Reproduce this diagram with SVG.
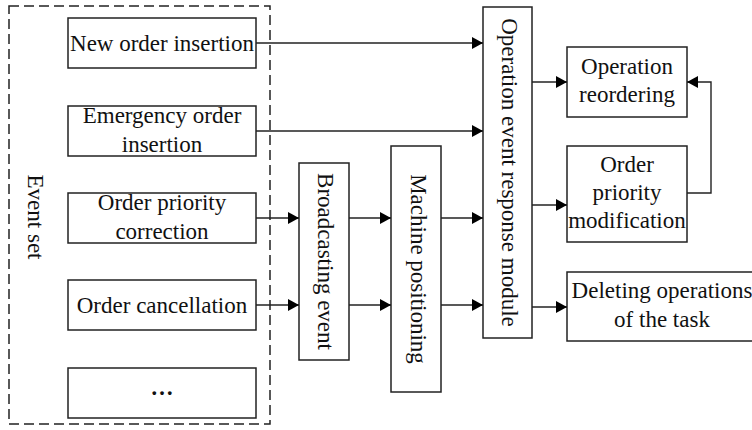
<svg xmlns="http://www.w3.org/2000/svg" width="752" height="430" viewBox="0 0 752 430">
<style>
.box{fill:#fff;stroke:#222;stroke-width:1.5}
.dash{fill:none;stroke:#222;stroke-width:1.5;stroke-dasharray:10 5}
.t{font-family:"Liberation Serif","Times New Roman",serif;font-size:23px;fill:#111;text-anchor:middle}
.c{fill:none;stroke:#222;stroke-width:1.4}
</style>
<defs>
<marker id="ah" markerWidth="11" markerHeight="12" refX="11" refY="6" orient="auto" markerUnits="userSpaceOnUse">
<path d="M0,0 L11,6 L0,12 z" fill="#000"/>
</marker>
</defs>
<rect width="752" height="430" fill="#fff"/>
<g id="event-set">
<rect class="dash" x="9" y="6" width="261" height="418"/>
<text class="t" transform="translate(28,217) rotate(90)">Event set</text>
</g>
<g id="new-order">
<rect class="box" x="68" y="18" width="188" height="50"/>
<text class="t" x="162" y="50.5">New order insertion</text>
</g>
<g id="emergency-order">
<rect class="box" x="68" y="106" width="188" height="50"/>
<text class="t" x="162" y="123">Emergency order</text>
<text class="t" x="162" y="152">insertion</text>
</g>
<g id="priority-correction">
<rect class="box" x="68" y="193" width="188" height="50"/>
<text class="t" x="162" y="210">Order priority</text>
<text class="t" x="162" y="239">correction</text>
</g>
<g id="order-cancellation">
<rect class="box" x="68" y="280" width="188" height="50"/>
<text class="t" x="162" y="312.5">Order cancellation</text>
</g>
<g id="more">
<rect class="box" x="68" y="368" width="188" height="50"/>
<text class="t" x="162" y="395" font-weight="bold">…</text>
</g>
<g id="broadcasting">
<rect class="box" x="299" y="163" width="50" height="197"/>
<text class="t" transform="translate(318,261.5) rotate(90)">Broadcasting event</text>
</g>
<g id="machine-positioning">
<rect class="box" x="391" y="146" width="50" height="246"/>
<text class="t" transform="translate(411,269) rotate(90)">Machine positioning</text>
</g>
<g id="response-module">
<rect class="box" x="483" y="7" width="49" height="331"/>
<text class="t" transform="translate(502,172.5) rotate(90)">Operation event response module</text>
</g>
<g id="reordering">
<rect class="box" x="567" y="47" width="120" height="70"/>
<text class="t" x="627" y="74">Operation</text>
<text class="t" x="627" y="102">reordering</text>
</g>
<g id="priority-modification">
<rect class="box" x="567" y="146" width="120" height="96"/>
<text class="t" x="627" y="172">Order</text>
<text class="t" x="627" y="200">priority</text>
<text class="t" x="627" y="227.5">modification</text>
</g>
<g id="deleting">
<rect class="box" x="567" y="272" width="190" height="69"/>
<text class="t" x="662" y="298">Deleting operations</text>
<text class="t" x="662" y="327">of the task</text>
</g>
<g id="connectors">
<path class="c" d="M256,43 H483" marker-end="url(#ah)"/>
<path class="c" d="M256,131 H483" marker-end="url(#ah)"/>
<path class="c" d="M256,218 H299" marker-end="url(#ah)"/>
<path class="c" d="M256,305 H299" marker-end="url(#ah)"/>
<path class="c" d="M349,218 H391" marker-end="url(#ah)"/>
<path class="c" d="M349,305 H391" marker-end="url(#ah)"/>
<path class="c" d="M441,218 H483" marker-end="url(#ah)"/>
<path class="c" d="M441,305 H483" marker-end="url(#ah)"/>
<path class="c" d="M532,82 H567" marker-end="url(#ah)"/>
<path class="c" d="M532,205 H567" marker-end="url(#ah)"/>
<path class="c" d="M532,307 H567" marker-end="url(#ah)"/>
<path class="c" d="M687,193 H711 V82 H687" marker-end="url(#ah)"/>
</g>
</svg>
